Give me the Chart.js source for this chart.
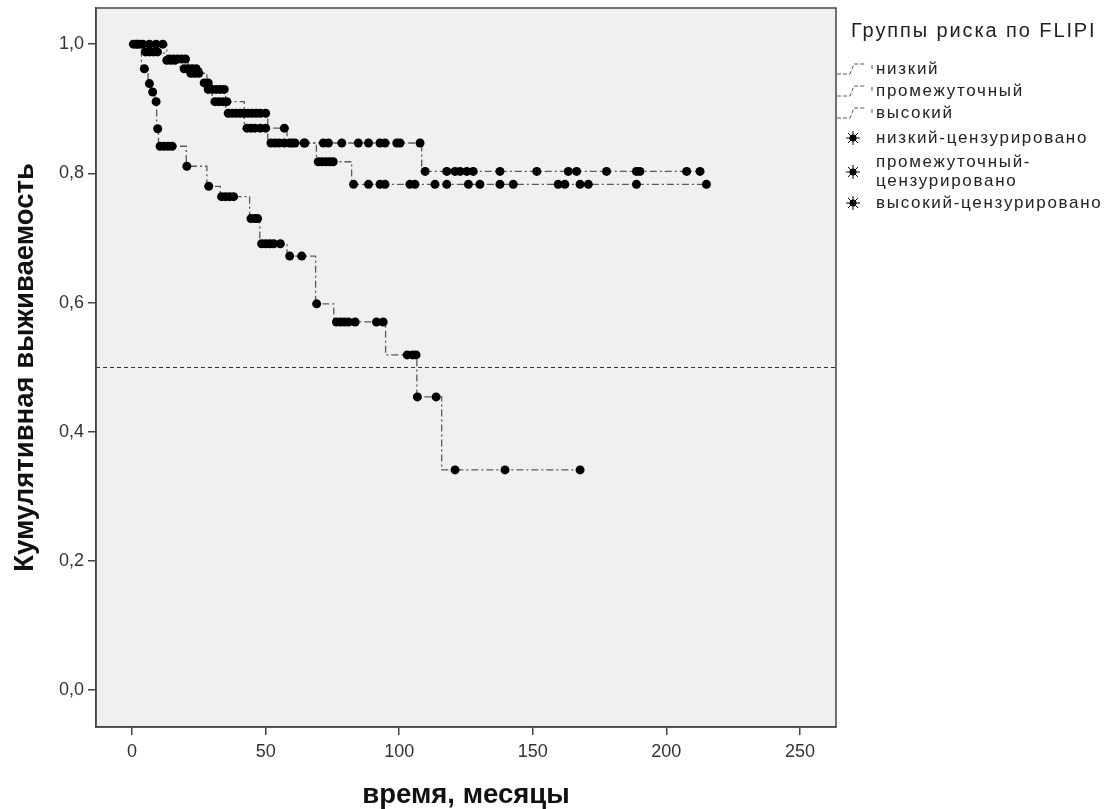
<!DOCTYPE html>
<html>
<head>
<meta charset="utf-8">
<script src="https://cdn.jsdelivr.net/npm/chart.js@4/dist/chart.umd.min.js"></script>
<style>
  html, body { margin: 0; padding: 0; background: #fff; }
</style>
</head>
<body>
<canvas id="km" width="1113" height="809"></canvas>
<script>
// Axis ticks and reference level
const xTicks = [0, 50, 100, 150, 200, 250];
const yTicks = [0, 0.2, 0.4, 0.6, 0.8, 1.0];
const medianLevel = 0.5;

// Legend texts
const legendTitle = "Группы риска по FLIPI";
const groupNames = ["низкий", "промежуточный", "высокий"];
const censoredNames = ["низкий-цензурировано", ["промежуточный-", "цензурировано"], "высокий-цензурировано"];

// низкий: step times (months) and survival after each step
const lowTimes = [0, 13, 21, 28, 35, 50.8, 108.4, 212.6];
const lowSurv = [1.0, 0.977, 0.955, 0.93, 0.893, 0.847, 0.803, 0.803];
const lowCensored = [0.5, 2, 4, 6.5, 9, 11.5, 14, 15.5, 17, 18.5, 20, 22, 23.5, 25, 28.5, 30, 31.5, 33, 34.5,
  36, 37.5, 39, 40.5, 42, 43.5, 45, 46.5, 48, 50, 52, 53.5, 55, 57, 60, 64.7, 71.6, 73.5, 78.5, 84.7, 88.5,
  92.8, 94.7, 99.1, 100.3, 107.8, 109.7, 117.8, 120.9, 122.8, 125.3, 127.7, 137.7, 151.5, 163.3, 166.4,
  177.6, 188.8, 190.1, 207.6, 212.6];

// промежуточный
const midTimes = [0, 4.5, 12, 18, 26, 30, 42, 58, 69, 82.2, 215];
const midSurv = [1.0, 0.988, 0.975, 0.962, 0.94, 0.911, 0.87, 0.847, 0.818, 0.783, 0.783];
const midCensored = [1.5, 3, 5, 6.5, 8, 9.5, 13, 14.5, 16, 19.5, 21, 22.5, 24, 27, 28.5, 31, 32.5, 34, 35.5,
  43, 44.5, 46, 48, 50, 57, 59, 61, 64.4, 69.7, 71, 72.5, 74, 75.3, 82.9, 88.5, 92.8, 94.7, 104, 105.9,
  113.4, 117.8, 125.9, 130.2, 137.7, 142.7, 159.5, 162, 167.7, 170.8, 188.8, 215];

// высокий
const highTimes = [0, 3.5, 6, 7.3, 8.6, 9.2, 9.9, 20.3, 28, 33, 44, 47.8, 58, 68.7, 75.5, 94.9, 106.6, 115.9, 167.7];
const highSurv = [1.0, 0.962, 0.939, 0.926, 0.911, 0.869, 0.842, 0.811, 0.780, 0.764, 0.730, 0.691, 0.672,
  0.598, 0.570, 0.519, 0.454, 0.341, 0.341];
const highCensored = [4.6, 6.5, 7.7, 9.0, 9.6, 10.5, 12, 13.5, 15, 20.5, 28.7, 33.5, 35, 36.5, 38, 44.5, 46, 47,
  48.5, 50, 51.5, 53, 55.5, 59, 63.5, 69.1, 76.5, 78, 79.5, 81, 83.5, 91.5, 94, 103, 105, 106.3, 106.8,
  113.8, 120.9, 139.6, 167.7];

const FONT = "'Liberation Sans', Arial, sans-serif";
const LINE_COLOR = "#5a5a5a";

const stepPoints = (times, surv) => times.map((t, i) => ({ x: t, y: surv[i] }));

// censored marks sit on the curve: take the survival of the last step at or before t
const censorPoints = (censored, times, surv) => censored.map((t) => {
  let s = surv[0];
  times.forEach((st, i) => { if (st <= t) s = surv[i]; });
  return { x: t, y: s };
});

const curves = [
  [lowTimes, lowSurv, lowCensored],
  [midTimes, midSurv, midCensored],
  [highTimes, highSurv, highCensored]
];

const datasets = [];
curves.forEach(([times, surv], i) => {
  datasets.push({
    label: groupNames[i],
    data: stepPoints(times, surv),
    stepped: "before",
    borderColor: LINE_COLOR,
    borderWidth: 1.3,
    borderDash: [7, 3, 2, 3],
    pointRadius: 0,
    fill: false,
    order: 2
  });
});
curves.forEach(([times, surv, cens], i) => {
  datasets.push({
    label: Array.isArray(censoredNames[i]) ? censoredNames[i].join(" ") : censoredNames[i],
    data: censorPoints(cens, times, surv),
    showLine: false,
    pointRadius: 4.5,
    pointBackgroundColor: "#000",
    pointBorderWidth: 0,
    order: 1
  });
});

// grey plot background and frame
const plotFrame = {
  id: "plotFrame",
  beforeDraw(chart) {
    const { ctx, chartArea: a } = chart;
    ctx.save();
    ctx.fillStyle = "#f0f0f0";
    ctx.fillRect(a.left, a.top, a.right - a.left, a.bottom - a.top);
    ctx.restore();
  },
  afterDraw(chart) {
    const { ctx, chartArea: a } = chart;
    ctx.save();
    ctx.strokeStyle = "#444";
    ctx.lineWidth = 1.5;
    ctx.strokeRect(a.left, a.top, a.right - a.left, a.bottom - a.top);
    ctx.restore();
  }
};

// dotted line at survival 0.5
const medianLine = {
  id: "medianLine",
  beforeDatasetsDraw(chart) {
    const { ctx, chartArea: a, scales } = chart;
    const y = Math.round(scales.y.getPixelForValue(medianLevel)) + 0.5;
    ctx.save();
    ctx.strokeStyle = "#333";
    ctx.lineWidth = 1;
    ctx.setLineDash([4, 3]);
    ctx.beginPath();
    ctx.moveTo(a.left, y);
    ctx.lineTo(a.right, y);
    ctx.stroke();
    ctx.restore();
  }
};

// SPSS style legend on the right
const sideLegend = {
  id: "sideLegend",
  afterDraw(chart) {
    const { ctx, chartArea: a } = chart;
    const x0 = a.right;
    ctx.save();
    ctx.fillStyle = "#222";
    ctx.textBaseline = "middle";
    ctx.font = `20px ${FONT}`;
    ctx.letterSpacing = "1.9px";
    ctx.fillText(legendTitle, x0 + 15, 31);

    ctx.font = `17px ${FONT}`;
    ctx.letterSpacing = "1.7px";
    const rows = [69, 91, 113];
    groupNames.forEach((name, i) => {
      const y = rows[i];
      ctx.strokeStyle = LINE_COLOR;
      ctx.lineWidth = 1;
      ctx.setLineDash([4, 2]);
      ctx.beginPath();
      ctx.moveTo(x0 + 1, y + 5);
      ctx.lineTo(x0 + 14, y + 5);
      ctx.lineTo(x0 + 18, y - 5);
      ctx.lineTo(x0 + 30, y - 5);
      ctx.stroke();
      ctx.setLineDash([]);
      ctx.beginPath();
      ctx.moveTo(x0 + 36, y - 4);
      ctx.lineTo(x0 + 36, y);
      ctx.stroke();
      ctx.fillStyle = "#222";
      ctx.fillText(name, x0 + 40, y);
    });

    const starRows = [138, 172, 203];
    censoredNames.forEach((name, i) => {
      const y = starRows[i];
      ctx.strokeStyle = "#000";
      ctx.fillStyle = "#000";
      Chart.helpers.drawPoint(ctx, { pointStyle: "star", radius: 7, borderWidth: 3.5 }, x0 + 17, y);
      ctx.beginPath();
      ctx.arc(x0 + 17, y, 3.5, 0, Math.PI * 2);
      ctx.fill();
      ctx.fillStyle = "#222";
      if (Array.isArray(name)) {
        ctx.fillText(name[0], x0 + 40, y - 10);
        ctx.fillText(name[1], x0 + 40, y + 9);
      } else {
        ctx.fillText(name, x0 + 40, y);
      }
    });
    ctx.restore();
  }
};

new Chart(document.getElementById("km"), {
  type: "line",
  data: { datasets },
  options: {
    responsive: false,
    animation: false,
    events: [],
    layout: { padding: { top: 8, right: 277, left: 0, bottom: 0 } },
    plugins: { legend: { display: false }, tooltip: { enabled: false } },
    scales: {
      x: {
        type: "linear",
        min: -13.5,
        max: 263.5,
        afterBuildTicks: (s) => { s.ticks = xTicks.map((v) => ({ value: v })); },
        afterFit: (s) => { s.height = 82; s.paddingLeft = 0; s.paddingRight = 0; },
        ticks: { font: { family: FONT, size: 18 }, color: "#333", padding: 6, maxRotation: 0 },
        grid: { drawOnChartArea: false, drawTicks: true, tickLength: 8, color: "#444", lineWidth: 1.5 },
        border: { display: true, color: "#444", width: 1.5 },
        title: {
          display: true,
          text: "время, месяцы",
          font: { family: FONT, size: 27.5, weight: "bold" },
          color: "#111",
          padding: { top: 0, bottom: -3 }
        }
      },
      y: {
        min: -0.057,
        max: 1.056,
        afterBuildTicks: (s) => { s.ticks = yTicks.map((v) => ({ value: v })); },
        afterFit: (s) => { s.width = 96; s.paddingTop = 0; s.paddingBottom = 0; },
        ticks: {
          font: { family: FONT, size: 18 },
          color: "#333",
          padding: 4,
          callback: (v) => v.toFixed(1).replace(".", ",")
        },
        grid: { drawOnChartArea: false, drawTicks: true, tickLength: 8, color: "#444", lineWidth: 1.5 },
        border: { display: true, color: "#444", width: 1.5 },
        title: {
          display: true,
          text: "Кумулятивная выживаемость",
          font: { family: FONT, size: 27.5, weight: "bold" },
          color: "#111",
          padding: { top: 9, bottom: 0 }
        }
      }
    }
  },
  plugins: [plotFrame, medianLine, sideLegend]
});
</script>
</body>
</html>
